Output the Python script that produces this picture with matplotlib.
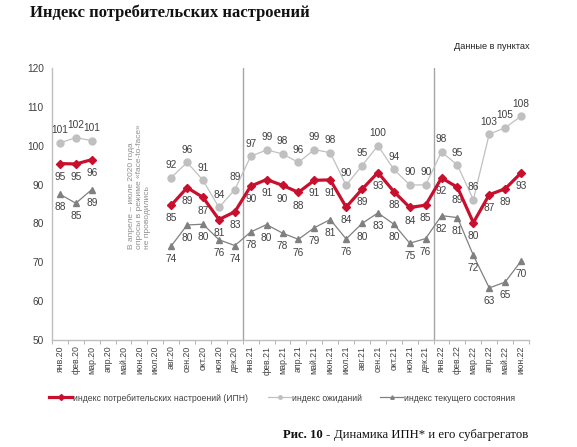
import numpy as np
import matplotlib
matplotlib.use('Agg')
import matplotlib.pyplot as plt
from matplotlib.lines import Line2D
from matplotlib.ticker import FixedLocator

plt.rcParams['font.family'] = ['Liberation Sans', 'DejaVu Sans']

nan = np.nan
months = ['янв.20', 'фев.20', 'мар.20', 'апр.20', 'май.20', 'июн.20', 'июл.20', 'авг.20', 'сен.20', 'окт.20',
          'ноя.20', 'дек.20', 'янв.21', 'фев.21', 'мар.21', 'апр.21', 'май.21', 'июн.21', 'июл.21', 'авг.21',
          'сен.21', 'окт.21', 'ноя.21', 'дек.21', 'янв.22', 'фев.22', 'мар.22', 'апр.22', 'май.22', 'июн.22']
ipn = [95.4, 95.3, 96.4, nan, nan, nan, nan, 84.7, 89.2, 86.7, 81.0, 83.0, 89.6, 91.3, 89.8, 88.0, 91.1, 91.2,
       84.2, 88.8, 93.1, 88.2, 84.1, 84.7, 91.7, 89.3, 80.2, 87.4, 88.9, 93.0]
ozh = [100.7, 102.1, 101.3, nan, nan, nan, nan, 91.8, 95.7, 91.1, 84.1, 88.7, 97.3, 98.9, 97.9, 95.7, 99.0, 98.2,
       89.8, 94.9, 100.0, 93.9, 89.9, 89.9, 98.4, 95.0, 86.1, 103.0, 104.6, 107.6]
tek = [87.5, 85.2, 88.7, nan, nan, nan, nan, 74.2, 79.6, 79.8, 75.8, 74.3, 77.8, 79.7, 77.5, 75.9, 78.9, 81.0,
       76.0, 80.0, 82.7, 79.8, 74.9, 76.1, 82.0, 81.5, 71.8, 63.4, 64.9, 70.3]
ipn_lbl = [95, 95, 96, None, None, None, None, 85, 89, 87, 81, 83, 90, 91, 90, 88, 91, 91,
           84, 89, 93, 88, 84, 85, 92, 89, 80, 87, 89, 93]
ozh_lbl = [101, 102, 101, None, None, None, None, 92, 96, 91, 84, 89, 97, 99, 98, 96, 99, 98,
           90, 95, 100, 94, 90, 90, 98, 95, 86, 103, 105, 108]
tek_lbl = [88, 85, 89, None, None, None, None, 74, 80, 80, 76, 74, 78, 80, 78, 76, 79, 81,
           76, 80, 83, 80, 75, 76, 82, 81, 72, 63, 65, 70]

red = '#C8102E'
light = '#C0C0C0'
dark = '#808080'
txt = '#404040'

fig = plt.figure(figsize=(5.77, 4.47), dpi=100)
ax = fig.add_axes([0.0901, 0.2394, 0.8267, 0.6085])
x = np.arange(len(months))

ax.plot(x, ozh, '-o', color=light, lw=0.9, ms=5, zorder=3)
ax.plot(x, tek, '-^', color=dark, lw=0.9, ms=5, zorder=3)
ax.plot(x, ipn, '-D', color=red, lw=2.3, ms=4.5, zorder=4)

for i in range(len(months)):
    if ozh_lbl[i] is not None:
        ax.annotate(str(ozh_lbl[i]), (x[i], ozh[i]), xytext=(0, 9), textcoords='offset points',
                    ha='center', va='center', fontsize=7.3, color=txt)
    if ipn_lbl[i] is not None:
        ax.annotate(str(ipn_lbl[i]), (x[i], ipn[i]), xytext=(0, -9.5), textcoords='offset points',
                    ha='center', va='center', fontsize=7.3, color=txt)
    if tek_lbl[i] is not None:
        ax.annotate(str(tek_lbl[i]), (x[i], tek[i]), xytext=(0, -9.5), textcoords='offset points',
                    ha='center', va='center', fontsize=7.3, color=txt)

# year separators
for b in [11.5, 23.5]:
    ax.axvline(b, color='#A6A6A6', lw=1, zorder=1)

ax.set_xlim(-0.5, len(months) - 0.5)
ax.set_ylim(50, 120)
ax.set_yticks(range(50, 121, 10))
ax.set_xticks(x)
ax.set_xticklabels(months, rotation=90, fontsize=6.3, color=txt)
ax.xaxis.set_minor_locator(FixedLocator(np.arange(-0.5, len(months), 1)))
ax.tick_params(axis='x', which='major', length=0, pad=4)
ax.tick_params(axis='x', which='minor', length=3, color='#A6A6A6')
ax.tick_params(axis='y', length=0, labelsize=7.3, labelcolor=txt, pad=6)
for s in ['top', 'right']:
    ax.spines[s].set_visible(False)
for s in ['left', 'bottom']:
    ax.spines[s].set_color('#BFBFBF')
    ax.spines[s].set_linewidth(1)

ax.text(5.03, 73.5, 'В апреле – июле 2020 года\nопросы в режиме «face-to-face»\nне проводились',
        rotation=90, ha='center', va='bottom', multialignment='left', fontsize=6.0, color='#909090')

fig.text(0.052, 0.972, 'Индекс потребительских настроений', fontsize=12, fontweight='bold',
         family='Liberation Serif', va='center', ha='left', color='#111111')
fig.text(0.918, 0.895, 'Данные в пунктах', fontsize=6.6, ha='right', va='center', color='#222222')

handles = [
    Line2D([], [], color=red, lw=2.3, marker='D', ms=3),
    Line2D([], [], color=light, lw=0.9, marker='o', ms=2.5),
    Line2D([], [], color=dark, lw=0.9, marker='^', ms=2.5),
]
names = ['индекс потребительских настроений (ИПН)', 'индекс ожиданий', 'индекс текущего состояния']
anchors = [0.085, 0.4645, 0.6586]
for h, n, a in zip(handles, names, anchors):
    fig.legend([h], [n], loc='center left', bbox_to_anchor=(a, 0.1096), frameon=False,
               fontsize=6.2, handlelength=2.7, handletextpad=0.1, borderpad=0, borderaxespad=0,
               labelcolor=txt)

# caption: bold part, then regular part right after it
cap1 = fig.text(0.4905, 0.027, 'Рис. 10 -', fontsize=9.2, fontweight='bold', family='Liberation Serif',
                ha='left', va='center', color='#111111')
fig.canvas.draw()
bb = cap1.get_window_extent(renderer=fig.canvas.get_renderer())
fig.text((bb.x1 + 3.5) / fig.bbox.width, 0.027, 'Динамика ИПН* и его субагрегатов', fontsize=9.2,
         family='Liberation Serif', ha='left', va='center', color='#111111')

fig.savefig('out.png', dpi=100)
